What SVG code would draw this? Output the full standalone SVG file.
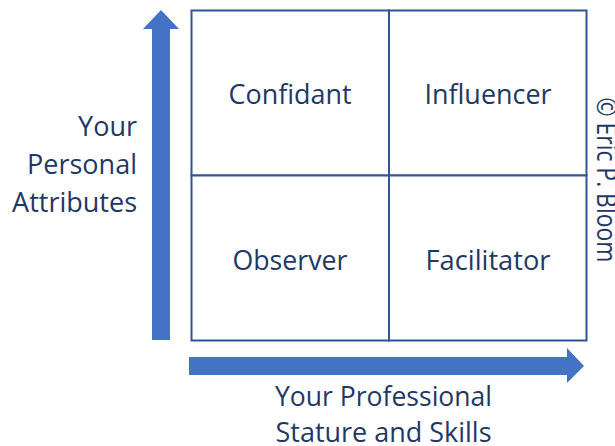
<svg xmlns="http://www.w3.org/2000/svg" width="615" height="446" viewBox="0 0 615 446">
  <style>
    .lbl { font-family: "Open Sans", "Liberation Sans", sans-serif; font-size: 27px; fill: #1f3864; }
    .mid { text-anchor: middle; }
    .end { text-anchor: end; }
    .cell { fill: #ffffff; stroke: #2f5597; stroke-width: 2; }
    .arrow { fill: #4472c4; }
  </style>

  <!-- axes -->
  <g id="connectors">
    <polygon id="axis-y" class="arrow" points="152,340 170,340 170,29 179,29 161,10 143,29 152,29"/>
    <polygon id="axis-x" class="arrow" points="189,357 567,357 567,348 584,366 567,383 567,375 189,375"/>
  </g>

  <!-- quadrants -->
  <g id="confidant">
    <rect class="cell" x="191.5" y="10.5" width="197.5" height="165"/>
    <text class="lbl mid" x="290" y="104" textLength="123" lengthAdjust="spacingAndGlyphs">Confidant</text>
  </g>
  <g id="influencer">
    <rect class="cell" x="389" y="10.5" width="197.5" height="165"/>
    <text class="lbl mid" x="488" y="104" textLength="127" lengthAdjust="spacingAndGlyphs">Influencer</text>
  </g>
  <g id="observer">
    <rect class="cell" x="191.5" y="175.5" width="197.5" height="165"/>
    <text class="lbl mid" x="290" y="270" textLength="115" lengthAdjust="spacingAndGlyphs">Observer</text>
  </g>
  <g id="facilitator">
    <rect class="cell" x="389" y="175.5" width="197.5" height="165"/>
    <text class="lbl mid" x="488" y="270" textLength="125" lengthAdjust="spacingAndGlyphs">Facilitator</text>
  </g>

  <!-- axis titles -->
  <g id="y-title">
    <text class="lbl end" x="137" y="136">Your</text>
    <text class="lbl end" x="137" y="174">Personal</text>
    <text class="lbl end" x="137" y="212">Attributes</text>
  </g>
  <g id="x-title">
    <text class="lbl mid" x="383.5" y="406" textLength="217" lengthAdjust="spacingAndGlyphs">Your Professional</text>
    <text class="lbl mid" x="383.5" y="442" textLength="216" lengthAdjust="spacingAndGlyphs">Stature and Skills</text>
  </g>

  <!-- copyright -->
  <g id="copyright">
    <text class="lbl mid" transform="translate(597,180) rotate(90)" x="0" y="0" font-size="20" textLength="165" lengthAdjust="spacingAndGlyphs">© Eric P. Bloom</text>
  </g>
</svg>
